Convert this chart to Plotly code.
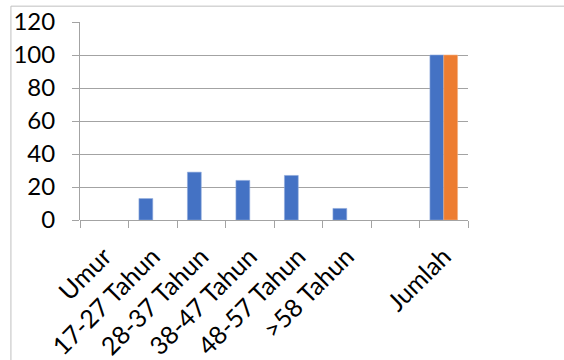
import plotly.graph_objects as go

# Age groups (the blank slot separates the total column)
categories = ["Umur", "17-27 Tahun", "28-37 Tahun", "38-47 Tahun",
              "48-57 Tahun", ">58 Tahun", " ", "Jumlah"]
jumlah_values = [None, 13, 29, 24, 27, 7, None, 100]
persen_values = [None, None, None, None, None, None, None, 100]
y_ticks = [0, 20, 40, 60, 80, 100, 120]

BLUE = "#4472C4"
ORANGE = "#ED7D31"
GRID = "#a3a3a3"
FONT = "Lato"

fig = go.Figure()
fig.add_trace(go.Bar(x=categories, y=jumlah_values, name="Jumlah",
                     marker=dict(color=BLUE, line=dict(color="#8faadc", width=0.6))))
fig.add_trace(go.Bar(x=categories, y=persen_values, name="Persentase",
                     marker=dict(color=ORANGE, line=dict(color="#f4b183", width=0.6))))

fig.update_layout(
    width=564, height=360,
    margin=dict(l=80, r=96, t=22, b=140, autoexpand=False),
    paper_bgcolor="white", plot_bgcolor="white",
    barmode="group", bargap=0.43, bargroupgap=0,
    showlegend=False,
    font=dict(family=FONT, size=24, color="black"),
)
fig.update_xaxes(
    type="category", categoryorder="array", categoryarray=categories,
    tickangle=-45, tickson="boundaries", ticks="outside", ticklen=7,
    tickcolor=GRID, showline=False, showgrid=False, automargin=False,
    tickfont=dict(family=FONT, size=25), ticklabelstandoff=16,
)
fig.update_yaxes(
    range=[0, 120], tickvals=y_ticks, ticks="outside", ticklen=7,
    tickcolor=GRID, showline=True, linecolor=GRID, linewidth=1,
    showgrid=True, gridcolor=GRID, gridwidth=1, zeroline=True,
    zerolinecolor=GRID, zerolinewidth=1, automargin=False,
    tickfont=dict(family=FONT, size=24), ticklabelstandoff=12,
)

# Chart-area frame
fig.add_shape(type="line", xref="paper", yref="paper",
              x0=-0.178, x1=1.3, y0=1.08, y1=1.08,
              line=dict(color="#bfbfbf", width=1))
fig.add_shape(type="line", xref="paper", yref="paper",
              x0=-0.178, x1=-0.178, y0=1.08, y1=-0.75,
              line=dict(color="#bfbfbf", width=1))

fig.write_html("out.html")
